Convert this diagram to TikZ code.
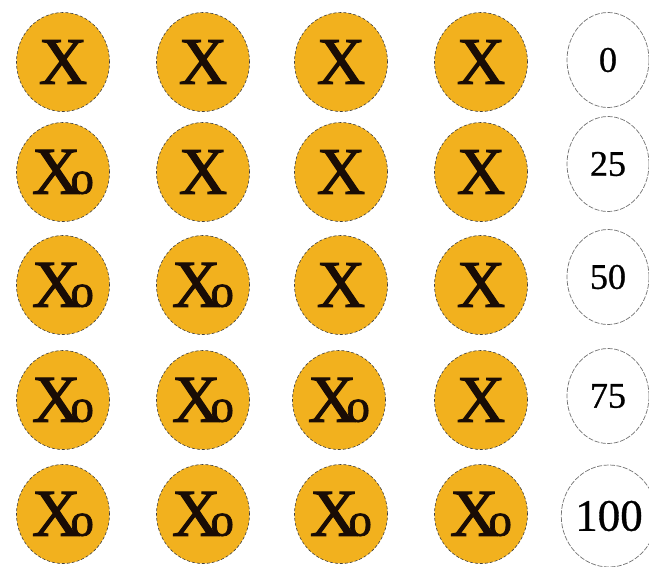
\documentclass[tikz,border=0pt]{standalone}
\usepackage{fontspec}
\setmainfont{Liberation Serif}
\newfontfamily\heavyserif[FakeBold=1.6]{Liberation Serif}
\newfontfamily\midserif[FakeBold=0.8]{Liberation Serif}
\usetikzlibrary{shapes.geometric}
\definecolor{gold}{RGB}{242,177,30}
\definecolor{ink}{RGB}{25,12,5}
\newcommand{\Xsym}{\heavyserif\fontsize{67}{67}\selectfont X}
\newcommand{\Xosym}{\heavyserif\fontsize{67}{67}\selectfont X\kern-10pt{\fontsize{47}{47}\selectfont o}}
\tikzset{
  xcell/.style={ellipse, fill=gold, draw=black!75, line width=0.6pt, dash pattern=on 3pt off 2pt,
    minimum width=93pt, minimum height=99pt, inner sep=0pt, text=ink},
  pcell/.style={ellipse, fill=white, draw=black!55, line width=0.7pt, dash pattern=on 5pt off 1.5pt,
    minimum width=82pt, minimum height=95pt, inner sep=0pt, font=\midserif\fontsize{36}{36}\selectfont}
}
\begin{document}
\begin{tikzpicture}[x=1pt,y=-1pt]
\useasboundingbox (0,0) rectangle (649,566);
% row 1
\node[xcell] (a11) at (63,62) {\Xsym};
\node[xcell] (a12) at (203,62) {\Xsym};
\node[xcell] (a13) at (341,62) {\Xsym};
\node[xcell] (a14) at (481,62) {\Xsym};
\node[pcell] (p1) at (608,60) {0};
% row 2
\node[xcell] (a21) at (63,172) {\Xosym};
\node[xcell] (a22) at (203,172) {\Xsym};
\node[xcell] (a23) at (341,172) {\Xsym};
\node[xcell] (a24) at (481,172) {\Xsym};
\node[pcell] (p2) at (608,164) {25};
% row 3
\node[xcell] (a31) at (63,285) {\Xosym};
\node[xcell] (a32) at (203,285) {\Xosym};
\node[xcell] (a33) at (341,285) {\Xsym};
\node[xcell] (a34) at (481,285) {\Xsym};
\node[pcell] (p3) at (608,277) {50};
% row 4
\node[xcell] (a41) at (63,400) {\Xosym};
\node[xcell] (a42) at (203,400) {\Xosym};
\node[xcell] (a43) at (339,400) {\Xosym};
\node[xcell] (a44) at (481,400) {\Xsym};
\node[pcell] (p4) at (608,396) {75};
% row 5
\node[xcell] (a51) at (63,514) {\Xosym};
\node[xcell] (a52) at (203,514) {\Xosym};
\node[xcell] (a53) at (341,514) {\Xosym};
\node[xcell] (a54) at (481,514) {\Xosym};
\node[pcell, font=\midserif\fontsize{45}{45}\selectfont, minimum width=84pt, minimum height=102pt] (p5) at (609,516) {100};
\end{tikzpicture}
\end{document}
